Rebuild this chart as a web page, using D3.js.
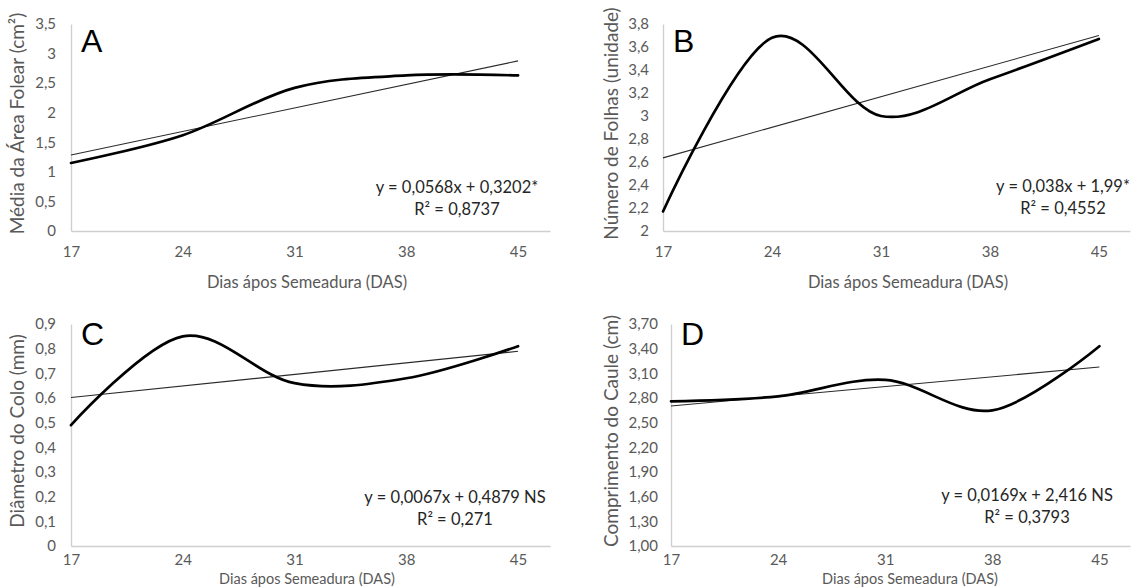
<!DOCTYPE html>
<html>
<head>
<meta charset="utf-8">
<script src="https://cdn.jsdelivr.net/npm/d3@7"></script>
<style>
  body { margin: 0; background: #fff; }
  svg { display: block; }
</style>
</head>
<body>
<svg id="chart" width="1131" height="587"></svg>
<script>
// dias após semeadura
const days = [17, 24, 31, 38, 45];

// médias
const areaFolear = [1.15, 1.62, 2.42, 2.63, 2.63];
const numeroFolhas = [2.17, 3.68, 3.0, 3.32, 3.67];
const diametroColo = [0.49, 0.85, 0.66, 0.68, 0.81];
const comprimentoCaule = [2.76, 2.82, 3.02, 2.65, 3.43];

// eixos y
const ticksA = [0, 0.5, 1, 1.5, 2, 2.5, 3, 3.5];
const ticksB = [2, 2.2, 2.4, 2.6, 2.8, 3, 3.2, 3.4, 3.6, 3.8];
const ticksC = [0, 0.1, 0.2, 0.3, 0.4, 0.5, 0.6, 0.7, 0.8, 0.9];
const ticksD = [1.0, 1.3, 1.6, 1.9, 2.2, 2.5, 2.8, 3.1, 3.4, 3.7];

// regressões (coef. angular, intercepto)
const slopes = [0.0568, 0.038, 0.0067, 0.0169];
const intercepts = [0.3202, 1.99, 0.4879, 2.416];
const equations = ['y = 0,0568x + 0,3202*', 'y = 0,038x + 1,99*', 'y = 0,0067x + 0,4879 NS', 'y = 0,0169x + 2,416 NS'];
const r2Labels = ['R² = 0,8737', 'R² = 0,4552', 'R² = 0,271', 'R² = 0,3793'];

const yTitles = ['Média da Área Folear (cm²)', 'Número de Folhas (unidade)', 'Diâmetro do Colo (mm)', 'Comprimento do Caule (cm)'];
const letters = ['A', 'B', 'C', 'D'];
const xTitle = 'Dias ápos Semeadura (DAS)';

const comma = (d) => String(+d.toFixed(2)).replace('.', ',');
const comma2 = (d) => d.toFixed(2).replace('.', ',');

const panels = [
    { values: areaFolear, ticks: ticksA, fmt: comma, left: 71, right: 550, top: 24, bottom: 231, yTitleX: 17, tickX: 56, eqX: 457, eqY: 193, titleX: 307, titleY: 288, tickPad: 15, titleSize: 16.5 },
    { values: numeroFolhas, ticks: ticksB, fmt: comma, left: 663, right: 1130, top: 24, bottom: 231, yTitleX: 611, tickX: 649, eqX: 1063, eqY: 192, titleX: 908, titleY: 288, tickPad: 15, titleSize: 16.5 },
    { values: diametroColo, ticks: ticksC, fmt: comma, left: 71, right: 550, top: 324, bottom: 546, yTitleX: 17, tickX: 56, eqX: 455, eqY: 503, titleX: 307, titleY: 583.5, tickPad: 8, titleSize: 14.5 },
    { values: comprimentoCaule, ticks: ticksD, fmt: comma2, left: 671, right: 1130, top: 324, bottom: 546, yTitleX: 611, tickX: 658, eqX: 1027, eqY: 501, titleX: 910, titleY: 583.5, tickPad: 8, titleSize: 14.5 },
];

const svg = d3.select('#chart');
const font = 'Lato, "Open Sans", sans-serif';

panels.forEach((p, i) => {
    const x = d3.scaleLinear().domain([17, 47]).range([p.left, p.right]);
    const y = d3.scaleLinear().domain([p.ticks[0], p.ticks[p.ticks.length - 1]]).range([p.bottom, p.top]);
    const g = svg.append('g');

    // eixo x
    const xAxis = g.append('g')
        .attr('transform', `translate(0,${p.bottom})`)
        .call(d3.axisBottom(x).tickValues(days).tickSize(0).tickPadding(p.tickPad).tickFormat(d3.format('d')));
    xAxis.select('.domain').attr('stroke', '#cfcfcf').attr('stroke-width', 1.4);
    xAxis.selectAll('text').attr('fill', '#595959').attr('font-size', 15).attr('font-family', font);

    // eixo y
    const yAxis = g.append('g')
        .attr('transform', `translate(${p.left},0)`)
        .call(d3.axisLeft(y).tickValues(p.ticks).tickSize(0).tickPadding(p.left - p.tickX).tickFormat(p.fmt));
    yAxis.select('.domain').attr('stroke', '#cfcfcf').attr('stroke-width', 1.4);
    yAxis.selectAll('text').attr('fill', '#595959').attr('font-size', 15).attr('font-family', font);

    // linha de tendência
    const trend = [days[0], days[days.length - 1]].map((d) => [d, slopes[i] * d + intercepts[i]]);
    g.append('path')
        .datum(trend)
        .attr('fill', 'none')
        .attr('stroke', '#2a2a2a')
        .attr('stroke-width', 1.1)
        .attr('d', d3.line().x((d) => x(d[0])).y((d) => y(d[1])));

    // série suavizada
    g.append('path')
        .datum(days.map((d, k) => [d, p.values[k]]))
        .attr('fill', 'none')
        .attr('stroke', '#000')
        .attr('stroke-width', 2.7)
        .attr('stroke-linecap', 'round')
        .attr('d', d3.line().curve(d3.curveCardinal.tension(0)).x((d) => x(d[0])).y((d) => y(d[1])));

    // letra do painel
    g.append('text')
        .attr('x', p.left + 10)
        .attr('y', p.top + (i < 2 ? 28 : 21))
        .attr('font-family', '"Liberation Sans", Arial, sans-serif')
        .attr('font-size', 32)
        .attr('fill', '#000')
        .text(letters[i]);

    // equação
    g.append('text')
        .attr('x', p.eqX).attr('y', p.eqY)
        .attr('text-anchor', 'middle')
        .attr('font-family', font).attr('font-size', 16.5).attr('fill', '#262626')
        .text(equations[i]);
    g.append('text')
        .attr('x', p.eqX).attr('y', p.eqY + 22)
        .attr('text-anchor', 'middle')
        .attr('font-family', font).attr('font-size', 16.5).attr('fill', '#262626')
        .text(r2Labels[i]);

    // títulos
    g.append('text')
        .attr('x', p.titleX).attr('y', p.titleY)
        .attr('text-anchor', 'middle')
        .attr('font-family', font).attr('font-size', p.titleSize).attr('fill', '#595959')
        .text(xTitle);
    g.append('text')
        .attr('transform', `translate(${p.yTitleX},${(p.top + p.bottom) / 2 - 4}) rotate(-90)`)
        .attr('text-anchor', 'middle')
        .attr('dy', '0.35em')
        .attr('font-family', font).attr('font-size', 19).attr('fill', '#595959')
        .text(yTitles[i]);
});
</script>
</body>
</html>
